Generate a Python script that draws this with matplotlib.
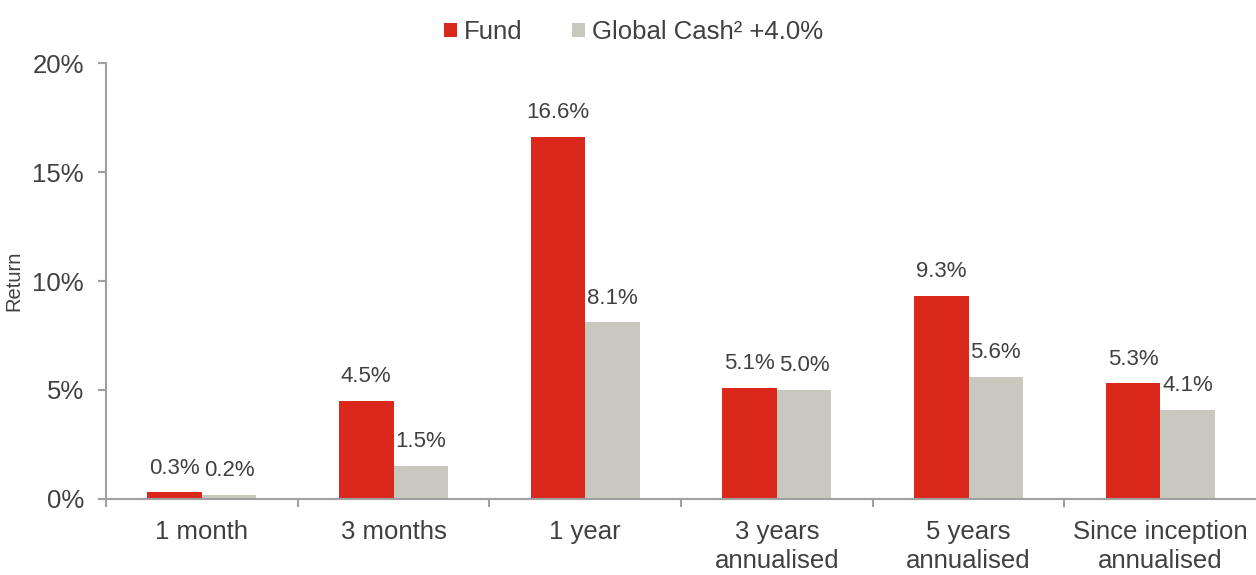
import matplotlib
matplotlib.use("Agg")
import matplotlib.pyplot as plt
import numpy as np

categories = ["1 month", "3 months", "1 year", "3 years\nannualised",
              "5 years\nannualised", "Since inception\nannualised"]
fund = [0.3, 4.5, 16.6, 5.1, 9.3, 5.3]
cash = [0.2, 1.5, 8.1, 5.0, 5.6, 4.1]
series_names = ["Fund", "Global Cash² +4.0%"]
yticks = [0, 5, 10, 15, 20]

RED = "#DA291C"
GREY = "#C8C8BF"
TXT = "#404040"
SPINE = "#A0A0A0"

plt.rcParams['font.family'] = ['Liberation Sans', 'DejaVu Sans']

fig = plt.figure(figsize=(12.56, 5.75), dpi=100)
ax = fig.add_axes([0.0844, 0.1322, 0.9156, 0.7582])

x = np.arange(len(categories))
w = 0.284
b1 = ax.bar(x - w / 2, fund, w, color=RED, label=series_names[0])
b2 = ax.bar(x + w / 2, cash, w, color=GREY, label=series_names[1])

for bars, vals in ((b1, fund), (b2, cash)):
    for r, v in zip(bars, vals):
        ax.annotate(f"{v:.1f}%", (r.get_x() + r.get_width() / 2, r.get_height()),
                    xytext=(0, 10), textcoords="offset points", ha="center", va="bottom",
                    fontsize=16, color=TXT)

ax.set_xlim(-0.5, len(categories) - 0.5)
ax.set_ylim(0, 20)
ax.set_yticks(yticks)
ax.set_yticklabels([f"{t}%" for t in yticks])
ax.set_xticks(x)
ax.set_xticklabels(categories, linespacing=1.25)
ax.set_xticks(np.arange(len(categories)) - 0.5, minor=True)
ax.tick_params(axis='x', which='major', length=0, pad=15, labelsize=18.5, colors=TXT)
ax.tick_params(axis='x', which='minor', length=6, width=1.5, color=SPINE, direction='out')
ax.tick_params(axis='y', length=6, width=1.5, color=SPINE, pad=10, labelsize=18.5, labelcolor=TXT)

for s in ("top", "right"):
    ax.spines[s].set_visible(False)
for s in ("left", "bottom"):
    ax.spines[s].set_color(SPINE)
    ax.spines[s].set_linewidth(1.5)

ax.set_ylabel("Return", fontsize=14.5, color=TXT, labelpad=6)

fig.legend(handles=[b1, b2], labels=series_names, loc="center", bbox_to_anchor=(0.5044, 0.944),
           ncol=2, frameon=False, fontsize=18.5, handlelength=0.5, handleheight=0.5,
           handletextpad=0.3, columnspacing=1.9, labelcolor=TXT)

fig.savefig("out.png", dpi=100)
